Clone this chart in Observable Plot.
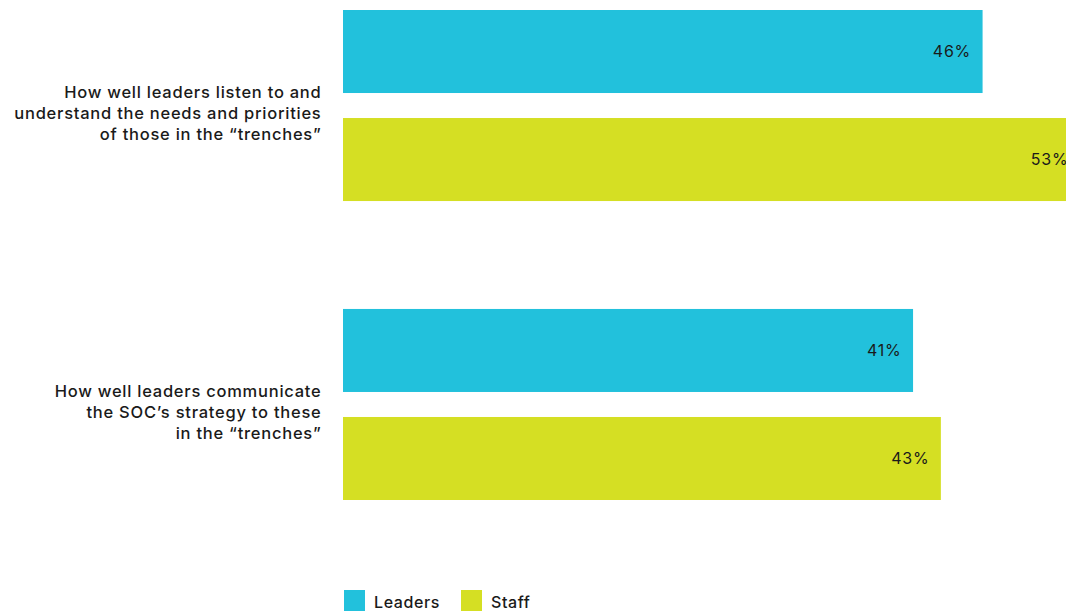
<!DOCTYPE html>
<html>
<head>
<meta charset="utf-8">
<script src="https://cdn.jsdelivr.net/npm/d3@7"></script>
<script src="https://cdn.jsdelivr.net/npm/@observablehq/plot@0.6"></script>
<style>
  html, body { margin: 0; padding: 0; background: #fff; overflow: hidden; }
  #chart { width: 1066px; }
  #chart svg { overflow: hidden; }
  #chart svg text { letter-spacing: 0.75px; }
  div.lg { margin-left: 344px; margin-top: 20px; letter-spacing: 0.6px; }
  div.lg .lg-swatch { margin-right: 21px; align-items: flex-end; line-height: 18px; }
  div.lg .lg-swatch > svg { margin-right: 9px; }
</style>
</head>
<body>
<div id="chart"></div>
<script>
const questions = [
  "How well leaders listen to and\nunderstand the needs and priorities\nof those in the \u201ctrenches\u201d",
  "How well leaders communicate\nthe SOC\u2019s strategy to these\nin the \u201ctrenches\u201d"
];
const series = ["Leaders", "Staff"];
const leaders = [46, 41];
const staff = [53, 43];
const colors = ["#22c1dc", "#d5df23"];

const rows = [];
questions.forEach((q, i) => {
  rows.push({question: q, series: "Leaders", value: leaders[i]});
  rows.push({question: q, series: "Staff", value: staff[i]});
});

const font = "Inter, 'Noto Sans', sans-serif";

const chart = Plot.plot({
  width: 1066,
  height: 564,
  marginLeft: 343,
  marginRight: 0,
  marginTop: 10,
  marginBottom: 64,
  style: {fontFamily: font, fontSize: "15px", color: "#1a1a1a", background: "#fff"},
  x: {domain: [0, 52], axis: null},
  fy: {domain: questions, paddingInner: 0.361, paddingOuter: 0, round: false, axis: null},
  y: {domain: series, paddingInner: 0.2315, paddingOuter: 0, round: false, axis: null},
  color: {domain: series, range: colors},
  marks: [
    Plot.barX(rows, {x: "value", y: "series", fy: "question", fill: "series"}),
    Plot.text(rows, {x: "value", y: "series", fy: "question", text: d => d.value + "%",
      textAnchor: "end", dx: -12, fill: "#1a1a1a", fontSize: 16}),
    Plot.text(questions, {fy: d => d, text: d => d, frameAnchor: "left", textAnchor: "end",
      dx: -22, dy: 6, fontWeight: 500, fontSize: 16.5, lineHeight: 1.27, fill: "#1a1a1a"})
  ]
});

const legend = Plot.legend({
  color: {type: "ordinal", domain: series, range: colors},
  legend: "swatches",
  swatchSize: 21,
  className: "lg",
  style: {fontFamily: font, fontSize: "16px", fontWeight: 500, color: "#1a1a1a"}
});
legend.classList.add("lg");

document.getElementById("chart").append(chart, legend);
</script>
</body>
</html>
